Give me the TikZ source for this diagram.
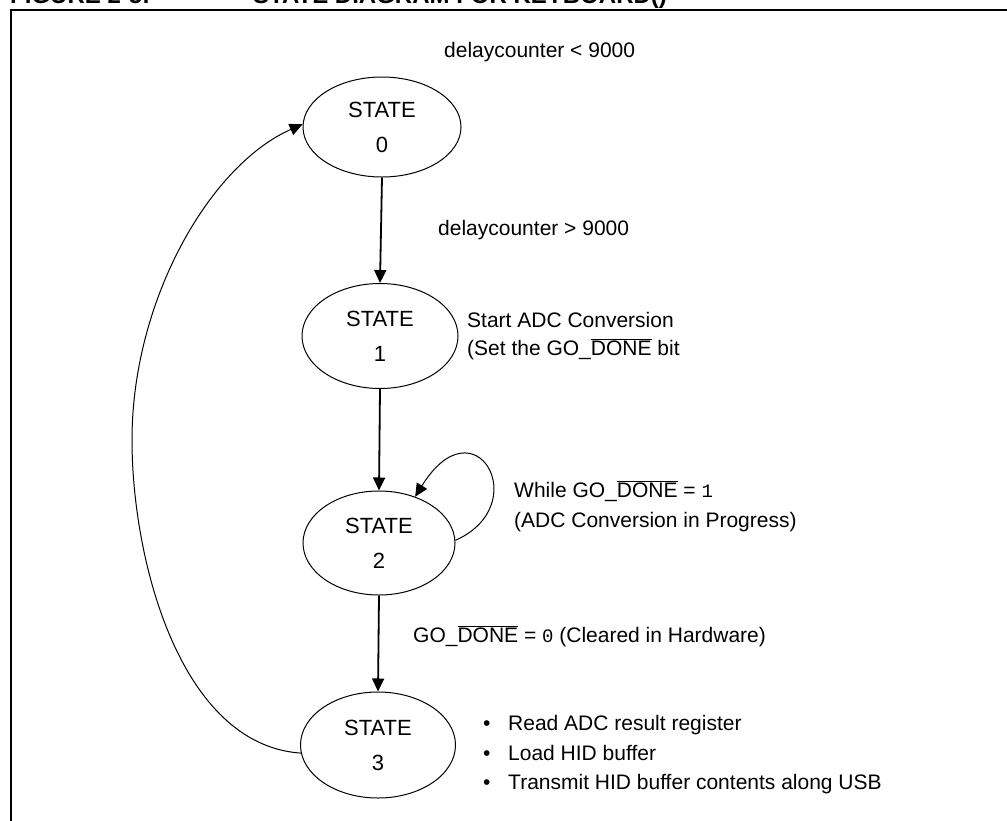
\documentclass[tikz,border=0pt]{standalone}
\usepackage{fontspec}
\setmainfont{Liberation Sans}
\newfontfamily\monofont{Liberation Mono}
\usetikzlibrary{shapes.geometric,arrows.meta}
\newcommand{\ovl}[1]{$\overline{\mbox{#1}}$}
\tikzset{
  statenode/.style={ellipse, draw, line width=1pt, inner sep=0pt, align=center,
    font=\fontsize{22}{35}\selectfont},
  lbl/.style={anchor=base west, inner sep=0pt, font=\fontsize{21}{25}\selectfont},
  arr/.style={line width=1.8pt, -{Triangle[length=13pt,width=12pt]}},
  thinarr/.style={line width=1pt, -{Triangle[length=13pt,width=12pt]}},
  titlefont/.style={anchor=base west, inner sep=0pt, font=\fontsize{24}{28}\selectfont\bfseries},
}
\begin{document}
\begin{tikzpicture}[x=1pt,y=-1pt]
\useasboundingbox (0,0) rectangle (1007,820);
\clip (0,0) rectangle (1007,820);
% title (cut off at the top, as in the reference)
\node[titlefont] (title1) at (10,3.5) {FIGURE 2-5:};
\node[titlefont] (title2) at (253,3.5) {STATE DIAGRAM FOR KEYBOARD()};
% frame
\draw[line width=2pt] (11,840) -- (11,10) -- (1020,10);
% states
\node[statenode, minimum width=158pt, minimum height=100pt] (s0) at (382,127) {STATE\\0};
\node[statenode, minimum width=156pt, minimum height=105pt] (s1) at (380,336) {STATE\\1};
\node[statenode, minimum width=152pt, minimum height=104pt] (s2) at (379,543) {STATE\\2};
\node[statenode, minimum width=155pt, minimum height=106pt] (s3) at (378,745) {STATE\\3};
% straight transitions
\draw[arr] (s0.south) -- (s1.north);
\draw[arr] (s1.south) -- (s2.north);
\draw[arr] (s2.south) -- (s3.north);
% self loop on state 2
\draw[thinarr] (s2.2) .. controls (535,505) and (475,400) .. (s2.52);
% return arc from state 3 to state 0
\coordinate (arcmid) at (132,440);
\draw[thinarr] (s3.186) .. controls (180,745) and (132,560) .. (arcmid)
  .. controls (132,300) and (210,165) .. (s0.178);
% labels
\node[lbl] (l0) at (444,57) {delaycounter < 9000};
\node[lbl] (l1) at (438,235.5) {delaycounter > 9000};
\node[lbl] (l2a) at (467,327.5) {Start ADC Conversion};
\node[lbl] (l2b) at (467,355) {(Set the GO\_\ovl{DONE} bit};
\node[lbl] (l3a) at (514,497.5) {While GO\_\ovl{DONE} = {\monofont\fontsize{19}{22}\selectfont 1}};
\node[lbl] (l3b) at (514,527.5) {(ADC Conversion in Progress)};
\node[lbl] (l4) at (413,642.5) {GO\_\ovl{DONE} = {\monofont\fontsize{19}{22}\selectfont 0} (Cleared in Hardware)};
\node[lbl] (b1) at (483,730.5) {•};
\node[lbl] (t1) at (508,730.5) {Read ADC result register};
\node[lbl] (b2) at (483,760.5) {•};
\node[lbl] (t2) at (508,760.5) {Load HID buffer};
\node[lbl] (b3) at (483,789.5) {•};
\node[lbl] (t3) at (508,789.5) {Transmit HID buffer contents along USB};
\end{tikzpicture}
\end{document}
